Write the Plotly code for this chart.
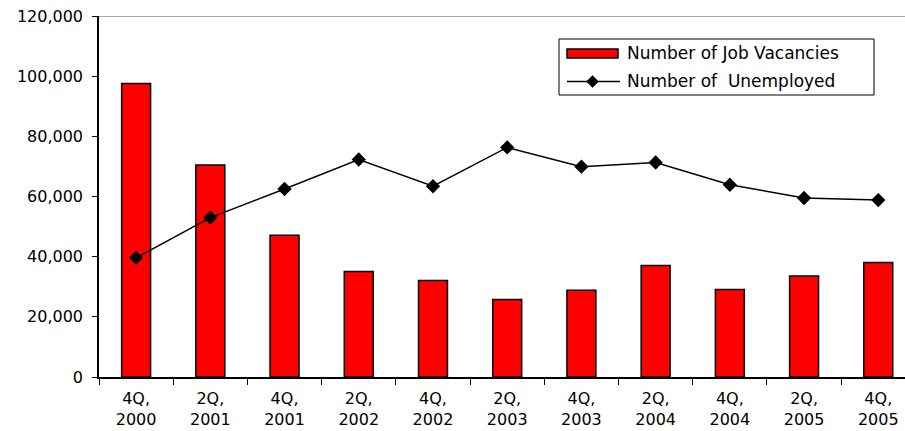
import plotly.graph_objects as go

# Quarterly labour market figures
quarters = ["4Q,<br>2000", "2Q,<br>2001", "4Q,<br>2001", "2Q,<br>2002", "4Q,<br>2002",
            "2Q,<br>2003", "4Q,<br>2003", "2Q,<br>2004", "4Q,<br>2004", "2Q,<br>2005",
            "4Q,<br>2005"]
job_vacancies = [97600, 70500, 47100, 35100, 32100, 25800, 28800, 37100, 29100, 33600, 38100]
unemployed = [39600, 53000, 62500, 72300, 63400, 76300, 69900, 71300, 63900, 59500, 58800]
y_ticks = [0, 20000, 40000, 60000, 80000, 100000, 120000]

FONT = "DejaVu Sans"
W, H = 905, 431
L, R, T, B = 99, 0, 16, 54

fig = go.Figure()
fig.add_trace(go.Bar(
    x=quarters, y=job_vacancies, name="Number of Job Vacancies",
    width=0.39, marker=dict(color="#ff0000", line=dict(color="#000000", width=1.5)),
    showlegend=False,
))
fig.add_trace(go.Scatter(
    x=quarters, y=unemployed, name="Number of  Unemployed", mode="lines+markers",
    line=dict(color="#000000", width=1.5),
    marker=dict(symbol="diamond", size=11, color="#000000"),
    showlegend=False,
))

# helpers to place legend pieces in pixel units
pw, ph = W - L - R, H - T - B
def px(x):
    return (x - L) / pw
def py(y):
    return (H - B - y) / ph

shapes = [
    # top border of the plot area
    dict(type="line", xref="paper", yref="y", x0=0, x1=1, y0=120000, y1=120000,
         line=dict(color="#8c8c8c", width=1.5)),
    # legend frame
    dict(type="rect", xref="paper", yref="paper", x0=px(559), x1=px(874), y0=py(39), y1=py(95),
         line=dict(color="#000000", width=1), fillcolor="#ffffff", layer="below"),
    # bar key
    dict(type="rect", xref="paper", yref="paper", x0=px(567), x1=px(618), y0=py(49), y1=py(58),
         line=dict(color="#000000", width=1.5), fillcolor="#ff0000"),
    # line key
    dict(type="line", xref="paper", yref="paper", x0=px(567), x1=px(620), y0=py(81.5), y1=py(81.5),
         line=dict(color="#000000", width=1.5)),
    dict(type="path", xref="paper", yref="paper",
         path=f"M {px(586.5)} {py(81.5)} L {px(592.5)} {py(75.5)} L {px(598.5)} {py(81.5)} "
              f"L {px(592.5)} {py(87.5)} Z",
         fillcolor="#000000", line=dict(color="#000000", width=0.5)),
]

annotations = [
    dict(xref="paper", yref="paper", x=px(625), y=py(53), text="Number of Job Vacancies",
         showarrow=False, xanchor="left", yanchor="middle",
         font=dict(family=FONT, size=17, color="#000000")),
    dict(xref="paper", yref="paper", x=px(625), y=py(81), text="Number of\u00a0 Unemployed",
         showarrow=False, xanchor="left", yanchor="middle",
         font=dict(family=FONT, size=17, color="#000000")),
]

fig.update_layout(
    width=W, height=H,
    margin=dict(l=L, r=R, t=T, b=B, pad=0),
    paper_bgcolor="#ffffff", plot_bgcolor="#ffffff",
    font=dict(family=FONT, size=16, color="#000000"),
    bargap=0.6,
    shapes=shapes, annotations=annotations,
    showlegend=False,
)
fig.update_xaxes(
    type="category", range=[-0.5, 10.36], automargin=False,
    showline=True, linecolor="#000000", linewidth=1.5,
    ticks="outside", tickson="boundaries", ticklen=6, tickcolor="#000000", tickwidth=1,
    showgrid=False, zeroline=False, ticklabelstandoff=6,
    tickfont=dict(family=FONT, size=16, color="#000000"),
)
fig.update_yaxes(
    range=[0, 120000], tickvals=y_ticks, tickformat=",", automargin=False,
    showline=True, linecolor="#000000", linewidth=1.5,
    ticks="outside", ticklen=5, tickcolor="#000000", tickwidth=1,
    showgrid=False, zeroline=False, ticklabelstandoff=6,
    tickfont=dict(family=FONT, size=16, color="#000000"),
)

fig.write_html("out.html")
